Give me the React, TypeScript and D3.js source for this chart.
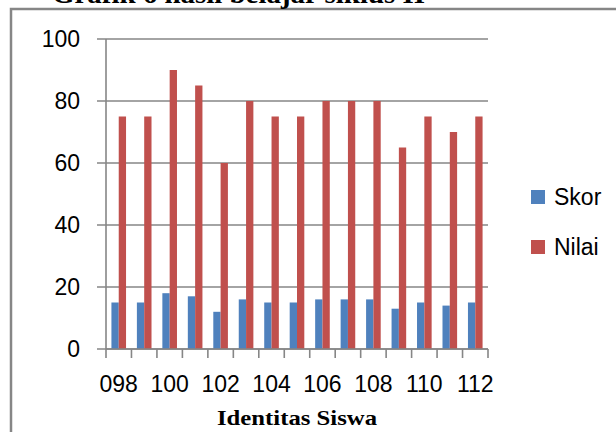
import React from "react";
import * as d3 from "d3";

const categories = ["098","099","100","101","102","103","104","105","106","107","108","109","110","111","112"];
const skor = [15,15,18,17,12,16,15,15,16,16,16,13,15,14,15];
const nilai = [75,75,90,85,60,80,75,75,80,80,80,65,75,70,75];
const yTicks = [0,20,40,60,80,100];
const seriesNames = ["Skor","Nilai"];
const seriesColors = ["#4F81BD","#C0504D"];
const title = "Grafik 6 hasil belajar siklus II";
const xTitle = "Identitas Siswa";

export default function App() {
  const W = 616, H = 432;
  const left = 106, right = 488, top = 39, bottom = 349;
  const x = d3.scaleBand<string>().domain(categories).range([left, right]).paddingInner(0).paddingOuter(0);
  const y = d3.scaleLinear().domain([0, 100]).range([bottom, top]);
  const bw = x.bandwidth();
  const barW = bw * 0.287;
  const gap = (bw - 2 * barW) / 2;
  const axisColor = "#868686";
  const font = "'Liberation Sans', Arial, sans-serif";
  const series = [skor, nilai];

  return (
    <svg width={W} height={H} style={{ position: "absolute", left: 0, top: 0, background: "#fff" }}>
      <rect x={11} y={9} width={700} height={600} fill="none" stroke={axisColor} strokeWidth={2.5} />
      <text x={52} y={2.5} fontFamily="'Liberation Serif', 'Times New Roman', serif" fontWeight="bold" fontSize={28} textLength={373} lengthAdjust="spacingAndGlyphs">{title}</text>
      {yTicks.map(t => (
        <g key={t}>
          <line x1={97} x2={right} y1={y(t)} y2={y(t)} stroke={axisColor} strokeWidth={1.6} />
          <text x={80} y={y(t) + 8.3} textAnchor="end" fontFamily={font} fontSize={23}>{t}</text>
        </g>
      ))}
      {categories.map((c, i) => (
        <g key={c}>
          {series.map((s, k) => (
            <rect key={k} x={(x(c) as number) + gap + k * barW} y={y(s[i])} width={barW} height={bottom - y(s[i])} fill={seriesColors[k]} />
          ))}
        </g>
      ))}
      <line x1={left} x2={left} y1={top} y2={bottom} stroke={axisColor} strokeWidth={1.6} />
      <line x1={left} x2={right} y1={bottom} y2={bottom} stroke={axisColor} strokeWidth={1.6} />
      {categories.map(c => (
        <line key={"t" + c} x1={x(c) as number} x2={x(c) as number} y1={bottom} y2={bottom + 9} stroke={axisColor} strokeWidth={1.6} />
      ))}
      <line x1={right} x2={right} y1={bottom} y2={bottom + 9} stroke={axisColor} strokeWidth={1.6} />
      {categories.map((c, i) => i % 2 === 0 ? (
        <text key={"l" + c} x={(x(c) as number) + bw / 2} y={392} textAnchor="middle" fontFamily={font} fontSize={23}>{c}</text>
      ) : null)}
      <text x={(left + right) / 2} y={425} textAnchor="middle" fontFamily="'Liberation Serif', 'Times New Roman', serif" fontWeight="bold" fontSize={22} textLength={160} lengthAdjust="spacingAndGlyphs">{xTitle}</text>
      {seriesNames.map((n, k) => (
        <g key={n}>
          <rect x={531} y={190 + k * 50} width={14} height={14} fill={seriesColors[k]} />
          <text x={554} y={205 + k * 50} fontFamily={font} fontSize={23}>{n}</text>
        </g>
      ))}
    </svg>
  );
}
